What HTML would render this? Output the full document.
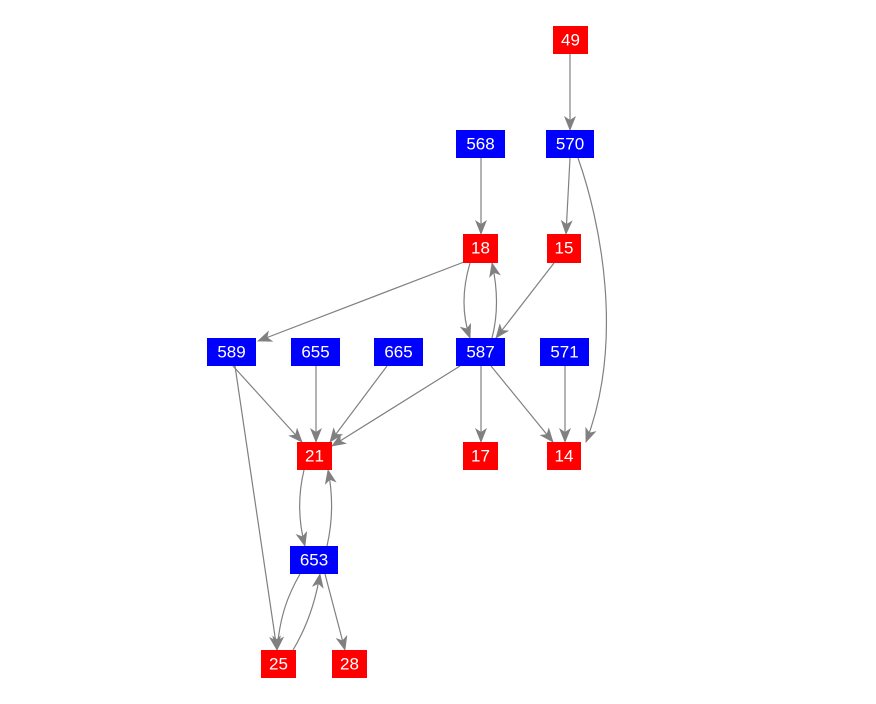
<!DOCTYPE html>
<html><head><meta charset="utf-8"><style>
html,body{margin:0;padding:0;background:#fff;}
svg{display:block}
text{font-family:"Liberation Sans",Arial,sans-serif;font-size:17px;fill:#fff;text-anchor:middle;dominant-baseline:central}
</style></head><body>
<svg width="876" height="704" viewBox="0 0 876 704">
<defs>
<marker id="a" markerWidth="15" markerHeight="12" refX="14" refY="6" orient="auto" markerUnits="userSpaceOnUse">
<path d="M0,0 L15,6 L0,12 L4,6 Z" fill="#808080"/>
</marker>
</defs>
<g stroke="#808080" stroke-width="1.2" fill="none" marker-end="url(#a)">
<path d="M570,54 L570,130"/>
<path d="M481,158 L481,234"/>
<path d="M570,158 L566,234"/>
<path d="M578,158 C600,220 625,340 586,442"/>
<path d="M464,262 L258,341"/>
<path d="M470,263 C462,290 462,315 470,338"/>
<path d="M492,338 C498,315 498,290 492,263"/>
<path d="M554,263 L496,338"/>
<path d="M233,366 L302,442"/>
<path d="M316,366 L316,442"/>
<path d="M387,366 L330,442"/>
<path d="M460,366 L332,446"/>
<path d="M481,366 L481,442"/>
<path d="M491,366 L553,442"/>
<path d="M565,366 L565,442"/>
<path d="M304,470 C298,495 298,520 305,546"/>
<path d="M327,546 C333,520 333,495 328,470"/>
<path d="M235,366 L277,650"/>
<path d="M300,574 C288,595 280,615 277,650"/>
<path d="M293,650 C305,630 315,605 320,574"/>
<path d="M325,574 L345,650"/>
</g>
<g>
<rect x="553" y="26" width="35" height="28" fill="#f00"/><text x="570.5" y="40">49</text>
<rect x="456" y="130" width="49" height="28" fill="#00f"/><text x="480.5" y="144">568</text>
<rect x="546" y="130" width="48" height="28" fill="#00f"/><text x="570" y="144">570</text>
<rect x="463" y="234" width="35" height="29" fill="#f00"/><text x="480.5" y="248">18</text>
<rect x="547" y="234" width="34" height="29" fill="#f00"/><text x="564" y="248">15</text>
<rect x="207" y="338" width="49" height="28" fill="#00f"/><text x="231.5" y="352">589</text>
<rect x="291" y="338" width="49" height="28" fill="#00f"/><text x="315.5" y="352">655</text>
<rect x="374" y="338" width="49" height="28" fill="#00f"/><text x="398.5" y="352">665</text>
<rect x="456" y="338" width="49" height="28" fill="#00f"/><text x="480.5" y="352">587</text>
<rect x="540" y="338" width="49" height="28" fill="#00f"/><text x="564.5" y="352">571</text>
<rect x="297" y="442" width="35" height="28" fill="#f00"/><text x="314.5" y="456">21</text>
<rect x="463" y="442" width="35" height="28" fill="#f00"/><text x="480.5" y="456">17</text>
<rect x="547" y="442" width="34" height="28" fill="#f00"/><text x="564" y="456">14</text>
<rect x="290" y="546" width="48" height="28" fill="#00f"/><text x="314" y="560">653</text>
<rect x="261" y="650" width="35" height="28" fill="#f00"/><text x="278.5" y="664">25</text>
<rect x="332" y="650" width="35" height="28" fill="#f00"/><text x="349.5" y="664">28</text>
</g>
</svg>
</body></html>
